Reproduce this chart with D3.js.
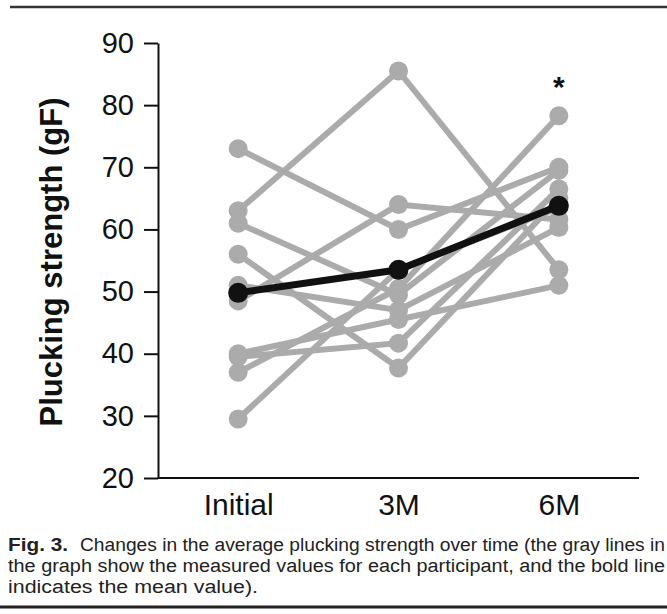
<!DOCTYPE html>
<html>
<head>
<meta charset="utf-8">
<script src="https://cdn.jsdelivr.net/npm/d3@7"></script>
<style>
  body { margin: 0; background: #fff; }
  svg { display: block; font-family: "Liberation Sans", Arial, sans-serif; }
</style>
</head>
<body>
<svg id="chart" width="667" height="614"></svg>
<script>
// time points
const timepoints = ["Initial", "3M", "6M"];

// each participant, values at Initial / 3M / 6M (gF)
const initialVals = [73, 63, 61, 56, 51, 48.5, 40, 39.5, 37, 29.5];
const threeMVals  = [60, 85.5, 49.5, 37.7, 47, 64, 45.5, 41.7, 50.5, 53.5];
const sixMVals    = [70, 53.5, 69.5, 65, 60.3, 61.6, 51, 66.5, 78.3, 63.5];

// mean line
const meanVals = [49.8, 53.5, 63.8];

const yTicks = [20, 30, 40, 50, 60, 70, 80, 90];

const captionLines = [
  "Changes in the average plucking strength over time (the gray lines in",
  "the graph show the measured values for each participant, and the bold line",
  "indicates the mean value)."
];

function init() {
    const svg = d3.select("#chart");

    const participants = initialVals.map((v, i) => [v, threeMVals[i], sixMVals[i]]);

    var x = d3.scalePoint().domain(timepoints).range([158, 639]).padding(0.5);
    var y = d3.scaleLinear().domain([20, 90]).range([478, 43]);

    // rules top and bottom
    svg.append("line").attr("x1", 10).attr("x2", 667).attr("y1", 7).attr("y2", 7)
      .attr("stroke", "#333").attr("stroke-width", 2.5);
    svg.append("line").attr("x1", 0).attr("x2", 667).attr("y1", 607).attr("y2", 607)
      .attr("stroke", "#222").attr("stroke-width", 3);

    // axes
    const yAxis = svg.append("g")
      .attr("transform", "translate(158,0)")
      .call(d3.axisLeft(y).tickValues(yTicks).tickSize(14).tickPadding(10).tickSizeOuter(0));
    yAxis.selectAll("text").attr("font-size", 29).attr("fill", "#111")
      .attr("font-family", "Liberation Sans, Arial, sans-serif");

    const xAxis = svg.append("g")
      .attr("transform", "translate(0,478)")
      .call(d3.axisBottom(x).tickSize(0).tickPadding(16).tickSizeOuter(0));
    xAxis.select(".domain").attr("d", "M158,0H639");
    xAxis.selectAll("text").attr("font-size", 30).attr("fill", "#111")
      .attr("font-family", "Liberation Sans, Arial, sans-serif");

    svg.selectAll(".domain, .tick line").attr("stroke", "#111").attr("stroke-width", 2);

    const line = d3.line().x((d, i) => x(timepoints[i])).y(d => y(d));

    // gray participant lines
    const gray = "#ababab";
    svg.append("g").selectAll("path").data(participants).join("path")
      .attr("d", line).attr("fill", "none").attr("stroke", gray).attr("stroke-width", 6);
    svg.append("g").selectAll("g").data(participants).join("g")
      .selectAll("circle").data(d => d).join("circle")
      .attr("cx", (d, i) => x(timepoints[i])).attr("cy", d => y(d))
      .attr("r", 9.5).attr("fill", gray);

    // mean
    svg.append("path").datum(meanVals).attr("d", line)
      .attr("fill", "none").attr("stroke", "#111").attr("stroke-width", 7);
    svg.append("g").selectAll("circle").data(meanVals).join("circle")
      .attr("cx", (d, i) => x(timepoints[i])).attr("cy", d => y(d))
      .attr("r", 10).attr("fill", "#111");

    // significance star
    svg.append("text").attr("x", x("6M")).attr("y", 97)
      .attr("text-anchor", "middle").attr("font-size", 30).attr("font-weight", "bold")
      .attr("fill", "#111").text("*");

    // y label
    svg.append("text")
      .attr("transform", "translate(62,262) rotate(-90)")
      .attr("text-anchor", "middle").attr("font-size", 31).attr("font-weight", "bold")
      .attr("fill", "#111").text("Plucking strength (gF)");

    // caption
    const cap = svg.append("g").attr("fill", "#222").attr("font-size", 18);
    cap.append("text").attr("x", 8).attr("y", 551).attr("font-weight", "bold")
      .attr("textLength", 60).attr("lengthAdjust", "spacingAndGlyphs")
      .text("Fig. 3.");
    cap.append("text").attr("x", 80).attr("y", 551)
      .attr("textLength", 585).attr("lengthAdjust", "spacingAndGlyphs").text(captionLines[0]);
    cap.append("text").attr("x", 8).attr("y", 572)
      .attr("textLength", 657).attr("lengthAdjust", "spacingAndGlyphs").text(captionLines[1]);
    cap.append("text").attr("x", 8).attr("y", 593)
      .attr("textLength", 250).attr("lengthAdjust", "spacingAndGlyphs").text(captionLines[2]);
}

init();
</script>
</body>
</html>
